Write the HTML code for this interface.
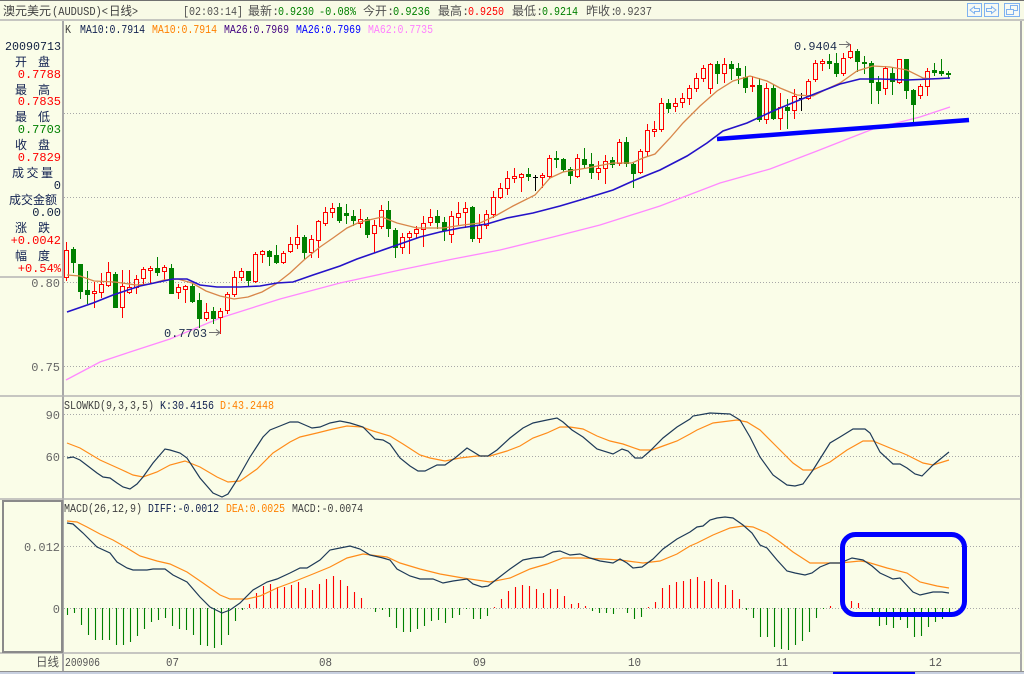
<!DOCTYPE html>
<html><head><meta charset="utf-8"><style>
html,body{margin:0;padding:0;background:#fafde8;width:1024px;height:674px;overflow:hidden}
svg{display:block}
.m{font-family:"Liberation Mono","Noto Sans CJK SC",monospace;font-size:12px}
.c{font-family:"Liberation Sans","Noto Sans CJK SC",sans-serif;font-size:12px}
</style></head><body>
<svg id="s" xmlns="http://www.w3.org/2000/svg" width="1024" height="674" viewBox="0 0 1024 674">
<rect x="0" y="0" width="1024" height="674" fill="#fafde8"/>
<!-- top bar -->
<rect x="0" y="0" width="1024" height="20" fill="#f8fae6"/>
<line x1="0" y1="0.5" x2="1024" y2="0.5" stroke="#707070"/>
<line x1="0" y1="20" x2="1024" y2="20" stroke="#b4b4b4" stroke-width="1.5"/>
<g class="c" fill="#404040">
<text x="3" y="15" textLength="48" lengthAdjust="spacingAndGlyphs">澳元美元</text>
<text x="52" y="15" class="m" textLength="56" lengthAdjust="spacingAndGlyphs">(AUDUSD)&lt;</text>
<text x="109" y="15" textLength="23" lengthAdjust="spacingAndGlyphs">日线</text>
<text x="132" y="15" class="m" textLength="6" lengthAdjust="spacingAndGlyphs">&gt;</text>
<text x="183" y="15" class="m" fill="#505050" textLength="60" lengthAdjust="spacingAndGlyphs">[02:03:14]</text>
<text x="248" y="15" fill="#505050" textLength="24" lengthAdjust="spacingAndGlyphs">最新</text>
<text x="272" y="15" class="m" fill="#505050">:</text>
<text x="278" y="15" class="m" fill="#008000" textLength="36" lengthAdjust="spacingAndGlyphs">0.9230</text>
<text x="319" y="15" class="m" fill="#008000" textLength="37" lengthAdjust="spacingAndGlyphs">-0.08%</text>
<text x="363" y="15" fill="#505050" textLength="24" lengthAdjust="spacingAndGlyphs">今开</text>
<text x="387" y="15" class="m" fill="#505050">:</text>
<text x="393" y="15" class="m" fill="#008000" textLength="37" lengthAdjust="spacingAndGlyphs">0.9236</text>
<text x="438" y="15" fill="#505050" textLength="24" lengthAdjust="spacingAndGlyphs">最高</text>
<text x="462" y="15" class="m" fill="#505050">:</text>
<text x="468" y="15" class="m" fill="#ff0000" textLength="36" lengthAdjust="spacingAndGlyphs">0.9250</text>
<text x="512" y="15" fill="#505050" textLength="24" lengthAdjust="spacingAndGlyphs">最低</text>
<text x="536" y="15" class="m" fill="#505050">:</text>
<text x="542" y="15" class="m" fill="#008000" textLength="36" lengthAdjust="spacingAndGlyphs">0.9214</text>
<text x="586" y="15" fill="#505050" textLength="24" lengthAdjust="spacingAndGlyphs">昨收</text>
<text x="610" y="15" class="m" fill="#505050">:</text>
<text x="615" y="15" class="m" fill="#505050" textLength="37" lengthAdjust="spacingAndGlyphs">0.9237</text>
</g>
<!-- icons -->
<g stroke="#7fb2f0" fill="#f6f9f4">
<rect x="967.5" y="3.5" width="14" height="13"/>
<rect x="984.5" y="3.5" width="14" height="13"/>
<rect x="1004.5" y="3.5" width="15" height="13"/>
</g>
<g stroke="#7fb2f0" fill="none">
<polygon points="970,10 974.5,6.5 974.5,8.5 979.5,8.5 979.5,11.5 974.5,11.5 974.5,13.5"/>
<polygon points="996,10 991.5,6.5 991.5,8.5 986.5,8.5 986.5,11.5 991.5,11.5 991.5,13.5"/>
<rect x="1010.5" y="5.5" width="7" height="5"/>
<rect x="1006.5" y="9.5" width="7" height="5" fill="#f6f9f4"/>
</g>
<!-- frame lines -->
<line x1="63" y1="21" x2="63" y2="671" stroke="#a8a8a8" stroke-width="2"/>
<line x1="1021" y1="21" x2="1021" y2="671" stroke="#a8a8a8" stroke-width="2"/>
<line x1="0" y1="396" x2="1021" y2="396" stroke="#b4b4b4" stroke-width="1.5"/>
<line x1="0" y1="499" x2="1021" y2="499" stroke="#b4b4b4" stroke-width="1.5"/>
<line x1="0" y1="653" x2="1021" y2="653" stroke="#b4b4b4" stroke-width="1.5"/>
<line x1="0" y1="277" x2="63" y2="277" stroke="#b4b4b4" stroke-width="1.5"/>
<rect x="3" y="501" width="59" height="151" fill="none" stroke="#8a8a8a" stroke-width="2"/>
<line x1="0" y1="671.5" x2="1024" y2="671.5" stroke="#909090"/>
<rect x="0" y="672" width="1024" height="2" fill="#c8d0e0"/>
<rect x="833" y="672" width="82" height="2" fill="#0000ff"/>
<!-- grid -->
<g stroke="#a8a8a8" stroke-dasharray="1 2">
<line x1="64" y1="113.5" x2="1020" y2="113.5"/>
<line x1="64" y1="197.5" x2="1020" y2="197.5"/>
<line x1="64" y1="282.5" x2="1020" y2="282.5"/>
<line x1="64" y1="366.5" x2="1020" y2="366.5"/>
<line x1="64" y1="414.5" x2="1020" y2="414.5"/>
<line x1="64" y1="456.5" x2="1020" y2="456.5"/>
<line x1="64" y1="546.5" x2="1020" y2="546.5"/>
<line x1="64" y1="608.5" x2="1020" y2="608.5"/>
</g>
<!-- left info panel -->
<g class="m">
<text x="61" y="50" text-anchor="end" fill="#102040" textLength="56" lengthAdjust="spacingAndGlyphs">20090713</text>
<text x="61" y="78" text-anchor="end" fill="#ff0000">0.7788</text>
<text x="61" y="105" text-anchor="end" fill="#ff0000">0.7835</text>
<text x="61" y="133" text-anchor="end" fill="#008000">0.7703</text>
<text x="61" y="161" text-anchor="end" fill="#ff0000">0.7829</text>
<text x="61" y="189" text-anchor="end" fill="#102040">0</text>
<text x="61" y="216" text-anchor="end" fill="#102040">0.00</text>
<text x="61" y="244" text-anchor="end" fill="#ff0000">+0.0042</text>
<text x="61" y="272" text-anchor="end" fill="#ff0000">+0.54%</text>
</g>
<g class="c" fill="#102050" font-size="13">
<text x="15" y="66">开</text><text x="38" y="66">盘</text>
<text x="15" y="94">最</text><text x="38" y="94">高</text>
<text x="15" y="121">最</text><text x="38" y="121">低</text>
<text x="15" y="149">收</text><text x="38" y="149">盘</text>
<text x="12" y="177" textLength="41" lengthAdjust="spacing">成交量</text>
<text x="9" y="204" textLength="48" lengthAdjust="spacingAndGlyphs">成交金额</text>
<text x="15" y="232">涨</text><text x="38" y="232">跌</text>
<text x="15" y="260">幅</text><text x="38" y="260">度</text>
</g>
<!-- axis labels -->
<g class="m" fill="#666666" text-anchor="end">
<text x="60" y="287">0.80</text>
<text x="60" y="371">0.75</text>
<text x="60" y="419">90</text>
<text x="60" y="461">60</text>
<text x="60" y="551">0.012</text>
<text x="60" y="613">0</text>
</g>
<text x="36" y="666" class="c" fill="#555" textLength="23" lengthAdjust="spacingAndGlyphs">日线</text>
<g class="m" fill="#555555">
<text x="65" y="666" textLength="35" lengthAdjust="spacingAndGlyphs">200906</text>
<text x="166" y="666" textLength="13" lengthAdjust="spacingAndGlyphs">07</text>
<text x="319" y="666" textLength="13" lengthAdjust="spacingAndGlyphs">08</text>
<text x="473" y="666" textLength="13" lengthAdjust="spacingAndGlyphs">09</text>
<text x="628" y="666" textLength="13" lengthAdjust="spacingAndGlyphs">10</text>
<text x="776" y="666" textLength="12" lengthAdjust="spacingAndGlyphs">11</text>
<text x="929" y="666" textLength="13" lengthAdjust="spacingAndGlyphs">12</text>
</g>
<!-- legends -->
<g class="m">
<text x="65" y="33" fill="#404040" textLength="6" lengthAdjust="spacingAndGlyphs">K</text>
<text x="80" y="33" fill="#102050" textLength="65" lengthAdjust="spacingAndGlyphs">MA10:0.7914</text>
<text x="152" y="33" fill="#ff8000" textLength="65" lengthAdjust="spacingAndGlyphs">MA10:0.7914</text>
<text x="224" y="33" fill="#400080" textLength="65" lengthAdjust="spacingAndGlyphs">MA26:0.7969</text>
<text x="296" y="33" fill="#0000ff" textLength="65" lengthAdjust="spacingAndGlyphs">MA26:0.7969</text>
<text x="368" y="33" fill="#ff80ff" textLength="65" lengthAdjust="spacingAndGlyphs">MA62:0.7735</text>
<text x="64" y="409" fill="#404040" textLength="90" lengthAdjust="spacingAndGlyphs">SLOWKD(9,3,3,5)</text>
<text x="160" y="409" fill="#102050" textLength="54" lengthAdjust="spacingAndGlyphs">K:30.4156</text>
<text x="220" y="409" fill="#ff8000" textLength="54" lengthAdjust="spacingAndGlyphs">D:43.2448</text>
<text x="64" y="512" fill="#404040" textLength="78" lengthAdjust="spacingAndGlyphs">MACD(26,12,9)</text>
<text x="148" y="512" fill="#102050" textLength="71" lengthAdjust="spacingAndGlyphs">DIFF:-0.0012</text>
<text x="226" y="512" fill="#ff8000" textLength="59" lengthAdjust="spacingAndGlyphs">DEA:0.0025</text>
<text x="292" y="512" fill="#404040" textLength="71" lengthAdjust="spacingAndGlyphs">MACD:-0.0074</text>
</g>
<!-- MA62 -->
<polyline fill="none" stroke="#ff88ff" stroke-width="1.3" points="66,380 100,362 130,352 170,339 220,318 280,299 340,283 400,270 453,259 500,250 553,237 600,225 660,206 720,183 770,169 817,151 873,129 920,117 950,107"/>
<g id="cand"></g>
<!-- MA10 -->
<polyline fill="none" stroke="#d8864a" stroke-width="1.3" points="67,275 80,276 94,281 115,282 136,285 150,284 164,280 178,279 192,283 206,291 220,296 234,299 248,297 262,292 276,284 290,273 304,260 320,247 333,238 347,228 360,222 382,217 397,223 417,228 443,228 463,225 480,223 497,215 513,206 535,195 550,178 563,172 587,168 613,163 632,163 643,158 655,154 670,138 683,123 700,106 717,91 733,81 750,76 767,81 780,88 797,95 813,96 827,89 840,83 857,71 873,66 890,67 907,70 923,78 933,79 950,78"/>
<!-- MA26 -->
<polyline fill="none" stroke="#2412c8" stroke-width="1.6" points="67,312 93,303 113,295 140,286 173,279 187,279 200,285 217,287 240,287 260,286 277,283 293,282 313,275 340,266 357,259 380,251 400,244 420,237 440,232 460,228 487,224 507,218 533,213 560,206 587,198 613,190 633,181 650,174 660,170 687,156 707,143 723,131 747,123 773,111 797,101 817,93 840,84 860,79 880,79 907,80 930,79 950,78"/>
<!-- trendline -->
<line x1="717" y1="139" x2="969" y2="120" stroke="#0000ff" stroke-width="4.5"/>
<!-- annotations -->
<text x="794" y="50" class="m" fill="#203050" textLength="43" lengthAdjust="spacingAndGlyphs">0.9404</text>
<line x1="839" y1="44.5" x2="850" y2="44.5" stroke="#707070"/>
<polyline points="846,41.5 850,44.5 846,47.5" fill="none" stroke="#707070"/>
<text x="164" y="337" class="m" fill="#203050" textLength="43" lengthAdjust="spacingAndGlyphs">0.7703</text>
<line x1="209" y1="332.5" x2="220" y2="332.5" stroke="#707070"/>
<polyline points="216,329.5 220,332.5 216,335.5" fill="none" stroke="#707070"/>
<!-- KD -->
<polyline fill="none" stroke="#ff8c1a" stroke-width="1.2" points="67,443 80,448 100,460 120,469 133,475 143,477 157,472 170,465 185,461 200,467 217,477 228,482 240,481 257,469 273,453 290,442 300,437 317,433 333,429 347,426 362,427 373,431 390,436 403,444 420,455 430,458 445,461 460,458 477,456 490,456 507,451 520,446 533,438 547,433 560,427 570,427 583,429 597,436 610,441 623,444 640,450 652,450 663,446 677,441 690,434 697,430 713,423 737,420 747,422 760,430 777,447 793,463 803,470 813,470 830,462 847,450 863,441 873,441 890,448 907,455 923,463 933,465 949,460"/>
<polyline fill="none" stroke="#1e3a58" stroke-width="1.2" points="67,458 73,457 80,460 97,473 103,477 110,478 117,483 123,487 130,489 137,484 143,477 153,463 165,449 170,450 180,453 187,458 200,478 213,493 222,497 228,494 237,480 250,457 263,437 270,430 280,426 290,422 298,422 305,425 312,428 320,427 330,423 340,421 350,423 363,427 375,439 383,440 390,444 400,458 410,466 418,471 425,471 437,465 445,465 455,458 467,448 480,456 488,456 497,450 510,438 523,428 533,423 547,420 557,418 563,422 572,430 583,437 597,449 613,454 622,449 628,451 635,458 642,458 650,451 663,438 677,427 690,419 693,416 710,413 730,414 740,420 750,437 760,457 773,475 787,485 795,486 803,484 813,470 830,443 840,437 853,429 865,429 870,433 880,452 893,464 900,464 907,468 915,474 922,476 933,465 949,452"/>
<!-- MACD -->
<g id="bars"></g>
<polyline fill="none" stroke="#ff8c1a" stroke-width="1.2" points="67,521 77,522 87,527 100,534 113,540 127,548 140,556 157,561 170,564 187,572 203,583 220,595 230,599 247,599 260,596 277,588 293,582 313,574 330,567 347,558 363,554 387,557 400,563 420,569 440,574 463,578 490,582 510,578 530,569 547,564 563,558 583,558 603,559 620,560 643,563 660,561 677,554 690,546 697,543 713,535 730,528 743,526 753,527 767,533 780,542 793,552 810,563 820,563 840,563 860,561 867,562 887,568 907,573 920,582 937,586 949,588"/>
<polyline fill="none" stroke="#1e3a58" stroke-width="1.2" points="67,523 73,524 83,533 97,547 110,553 117,562 127,568 133,570 147,570 153,569 165,569 173,575 187,582 200,597 210,607 222,613 230,610 240,603 253,590 267,582 277,579 290,573 300,568 307,568 320,560 330,550 340,548 350,546 360,549 370,555 383,558 390,560 397,569 410,576 420,579 433,579 443,583 453,581 467,579 473,584 482,587 488,586 497,579 510,569 523,560 533,558 543,557 553,552 560,551 570,555 580,554 590,558 600,561 613,563 620,559 627,563 633,568 642,567 653,559 663,549 677,539 690,532 697,527 703,526 710,520 717,518 725,517 733,518 743,525 752,533 760,545 767,548 777,560 787,571 795,573 805,575 812,573 820,567 830,563 840,563 852,558 863,560 872,566 880,573 893,579 900,578 913,592 920,595 933,592 942,592 949,593"/>
<rect x="842.5" y="534.5" width="122" height="80" rx="13" ry="13" fill="none" stroke="#0000ff" stroke-width="5"/>
</svg>
<script>
(function(){
var C="r,250,277,242,280;g,249,262,247,272;g,264,291,264,298;g,290,294,271,303;r,291,293,282,307;r,284,292,273,297;r,272,285,262,286;g,274,307,272,307;r,286,307,270,317;r,287,292,270,293;r,279,287,275,293;r,269,278,267,284;r,268,270,266,283;g,268,272,257,275;r,267,271,265,280;g,268,293,264,293;r,287,292,284,298;r,286,289,285,302;g,286,301,283,302;g,300,318,293,327;r,312,318,303,320;g,311,318,307,323;r,311,317,308,333;r,294,310,292,313;r,277,294,271,296;r,271,277,268,280;g,271,280,271,286;r,254,281,252,282;r,251,254,250,262;g,251,256,250,265;g,255,262,245,263;r,253,262,251,263;r,244,251,237,252;r,237,244,225,248;g,237,252,235,258;r,239,252,235,257;r,221,240,220,257;r,212,223,207,225;r,208,212,203,217;g,207,220,203,222;g,213,215,204,223;g,216,220,210,225;r,219,223,209,227;g,219,234,217,237;r,225,233,220,252;r,210,226,205,228;g,210,228,201,236;g,230,247,228,257;r,237,247,233,253;r,233,237,231,253;r,229,233,226,237;r,223,229,216,246;r,217,222,209,225;g,216,222,210,228;g,222,230,217,240;r,216,234,211,242;r,213,217,202,224;r,208,212,202,227;g,207,238,206,241;r,225,238,214,242;r,214,225,210,228;r,197,214,191,217;r,188,197,183,198;r,178,188,171,194;r,176,178,168,182;r,174,177,173,191;g,174,176,168,180;k,177,177,175,190;r,175,177,173,187;r,158,176,155,178;g,158,159,151,167;g,159,169,158,171;g,169,175,167,183;r,158,176,154,177;g,159,164,148,167;g,164,172,153,178;r,168,172,161,179;r,161,168,155,183;g,160,164,157,167;r,142,163,139,165;g,142,163,137,166;g,164,173,162,187;r,151,172,149,173;r,130,151,124,156;r,129,131,121,136;r,103,129,98,131;g,103,108,99,112;r,103,106,98,111;r,98,102,93,107;r,88,98,85,104;r,78,88,73,91;r,68,78,65,81;r,64,88,63,93;g,64,73,61,83;r,64,73,58,82;g,64,68,61,79;g,68,75,63,83;g,77,87,66,92;r,85,86,76,91;g,85,119,78,121;r,88,119,83,123;g,88,118,84,119;r,107,118,93,129;g,107,110,99,128;r,96,110,89,118;k,98,98,93,110;r,81,98,79,99;r,63,79,60,81;r,61,63,59,70;g,61,63,54,68;g,63,73,53,76;r,58,73,53,75;r,51,57,44,58;g,51,61,49,71;g,62,63,56,73;g,63,82,61,103;g,82,90,76,103;r,68,88,66,94;g,73,81,68,94;r,59,82,59,83;g,59,90,59,98;g,90,104,89,123;r,86,95,84,98;r,71,86,68,95;g,70,72,63,75;g,71,73,59,75;g,73,74,71,78".split(";");
var h="";
for(var i=0;i<C.length;i++){
 var a=C[i].split(","),x=66+7*i,t=+a[1],b=+a[2],hi=+a[3],lo=+a[4];
 var col=a[0]=="r"?"#ff0000":(a[0]=="g"?"#008000":"#000000");
 h+='<line x1="'+(x+.5)+'" y1="'+hi+'" x2="'+(x+.5)+'" y2="'+(lo+1)+'" stroke="'+col+'"/>';
 if(a[0]=="r"){h+='<rect x="'+(x-1.5)+'" y="'+(t+.5)+'" width="4" height="'+Math.max(b-t,1)+'" fill="#fafde8" stroke="#ff0000"/>';}
 else if(a[0]=="g"){h+='<rect x="'+(x-2)+'" y="'+t+'" width="5" height="'+Math.max(b-t+1,2)+'" fill="#008000"/>';}
 else {h+='<line x1="'+(x-2)+'" y1="'+(t+.5)+'" x2="'+(x+3)+'" y2="'+(t+.5)+'" stroke="#000"/>';}
}
document.getElementById("cand").innerHTML=h;
var H=[-7,-5,-17,-27,-32,-32,-32,-37,-37,-34,-28,-21,-14,-12,-10,-18,-21,-22,-27,-37,-38,-40,-37,-27,-13,-2,4,15,22,24,21,21,23,26,20,18,24,29,32,28,22,16,10,0,-4,-2,-9,-20,-24,-24,-21,-18,-13,-12,-15,-10,-7,-1,-11,-11,-8,1,9,17,21,23,22,19,15,19,19,12,4,5,2,-3,-5,-5,-6,0,-5,-11,-9,1,6,20,23,26,27,29,31,27,29,26,23,18,9,-2,-10,-29,-29,-39,-41,-42,-37,-33,-24,-10,-1,2,0,3,7,5,0,-6,-18,-17,-20,-12,-20,-29,-28,-19,-14,-11,-7];
var g="";
for(var j=0;j<H.length;j++){
 if(H[j]==0)continue;
 var xx=67.5+7*j,c=H[j]>0?"#ff0000":"#008000";
 g+='<line x1="'+xx+'" y1="608" x2="'+xx+'" y2="'+(608-H[j])+'" stroke="'+c+'" stroke-width="1.1"/>';
}
document.getElementById("bars").innerHTML=g;
})();
</script>
</body></html>
